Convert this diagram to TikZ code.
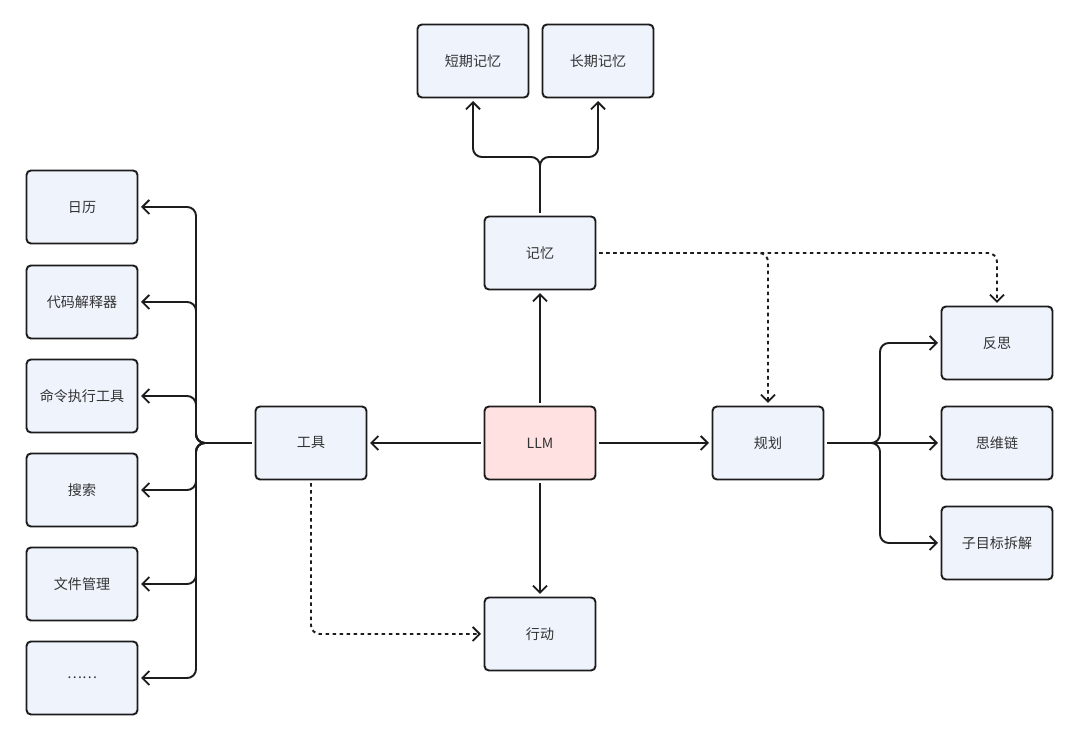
\documentclass[tikz,border=0pt]{standalone}
\usepackage{fontspec}
\setmainfont{Noto Sans CJK SC}
\usetikzlibrary{arrows.meta}
\definecolor{boxblue}{HTML}{EEF3FC}
\definecolor{boxpink}{HTML}{FFE1E1}
\definecolor{edgegray}{HTML}{1C1C1C}
\definecolor{textgray}{HTML}{333333}
\begin{document}
\begin{tikzpicture}[x=0.02cm,y=-0.02cm]
	\tikzstyle{Box} = [rectangle, draw=edgegray, line width=1.1pt, rounded corners=2.5pt, minimum width=2.22cm, minimum height=1.46cm, inner sep=0pt, outer sep=2pt, font=\fontsize{8}{9}\selectfont, text=textgray, fill=boxblue]
	\tikzstyle{Link} = [draw=edgegray, line width=1.1pt, rounded corners=5pt, -{Straight Barb[length=1.4mm,width=2.8mm]}]
	\tikzstyle{Dots} = [Link, dash pattern=on 2pt off 2pt]
	\useasboundingbox (0,0) rectangle (1080,729);
	\node (short) at (473,61) [Box] {短期记忆};
	\node (long) at (598,61) [Box] {长期记忆};
	\node (mem) at (540,253) [Box] {记忆};
	\node (llm) at (540,443) [Box, fill=boxpink] {LLM};
	\node (tool) at (311,443) [Box] {工具};
	\node (plan) at (768,443) [Box] {规划};
	\node (act) at (540,634) [Box] {行动};
	\node (cal) at (82,207) [Box] {日历};
	\node (code) at (82,302) [Box] {代码解释器};
	\node (cmd) at (82,396) [Box] {命令执行工具};
	\node (search) at (82,490) [Box] {搜索};
	\node (file) at (82,584) [Box] {文件管理};
	\node (more) at (82,678) [Box] {……};
	\node (refl) at (997,343) [Box] {反思};
	\node (cot) at (997,443) [Box] {思维链};
	\node (sub) at (997,543) [Box] {子目标拆解};
	\coordinate (mbus) at (540,157);
	\coordinate (tbus) at (196,443);
	\coordinate (pbus) at (880,443);
	\draw [Link] (mem.north) -- (mbus) -| (short.south);
	\draw [Link] (mem.north) -- (mbus) -| (long.south);
	\draw [Link] (llm) to (mem);
	\draw [Link] (llm) to (tool);
	\draw [Link] (llm) to (plan);
	\draw [Link] (llm) to (act);
	\foreach \n in {cal,code,cmd,search,file,more}
		\draw [Link] (tool.west) -- (tbus) |- (\n.east);
	\draw [Link] (plan.east) -- (pbus) |- (refl.west);
	\draw [Link] (plan.east) -- (cot.west);
	\draw [Link] (plan.east) -- (pbus) |- (sub.west);
	\draw [Dots] (mem.east) -| (plan.north);
	\draw [Dots] (mem.east) -| (refl.north);
	\draw [Dots] (tool.south) |- (act.west);
\end{tikzpicture}
\end{document}
